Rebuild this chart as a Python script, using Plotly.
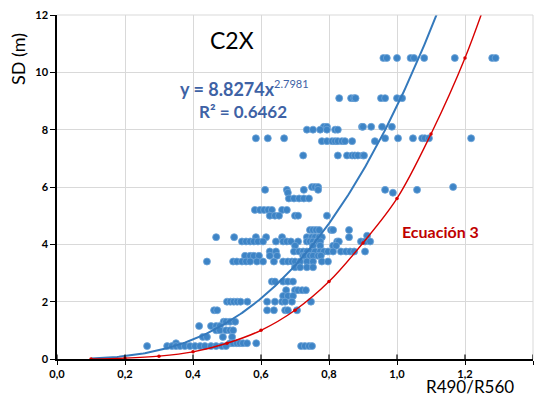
import numpy as np
import plotly.graph_objects as go

# ---- Data ----
rows = {
    10.5: [0.96, 0.97, 1.00, 1.04, 1.05, 1.08, 1.17, 1.28, 1.29],
    9.1: [0.83, 0.865, 0.874, 0.878, 0.953, 0.965, 1.00, 1.015],
    8.1: [0.785, 0.794, 0.897, 0.90, 0.924, 0.956, 0.985],
    8.0: [0.735, 0.753, 0.774, 0.794, 0.818, 0.826],
    7.7: [0.585, 0.62, 0.668, 0.965, 1.003, 1.047, 1.074, 1.082, 1.094, 1.218],
    7.6: [0.779, 0.794, 0.809, 0.818, 0.826, 0.838, 0.847, 0.868, 0.935],
    7.1: [0.724, 0.826, 0.853, 0.868, 0.876, 0.885, 0.90, 0.903],
    6.0: [0.75, 0.759, 0.768, 1.165],
    5.9: [0.612, 0.676, 0.726, 0.768, 0.965, 1.059],
    5.8: [0.679, 0.988],
    5.6: [0.682, 0.697, 0.712, 0.726, 0.741],
    5.2: [0.582, 0.597, 0.609, 0.621, 0.632, 0.662, 0.676],
    5.0: [0.626, 0.641, 0.653, 0.70, 0.709, 0.794],
    4.5: [0.744, 0.753, 0.762, 0.771, 0.806, 0.812, 0.859],
    4.3: [0.912],
    4.25: [0.468, 0.521, 0.585, 0.615, 0.662, 0.735, 0.75, 0.759, 0.771, 0.779, 0.859],
    4.1: [0.544, 0.556, 0.568, 0.579, 0.591, 0.606, 0.644, 0.665, 0.676, 0.688,
          0.709, 0.735, 0.744, 0.753, 0.765, 0.774, 0.824, 0.829, 0.894, 0.906, 0.921],
    3.95: [0.70, 0.753, 0.774, 0.812, 0.821],
    3.75: [0.626, 0.644, 0.697, 0.712, 0.724, 0.735, 0.747, 0.759, 0.774, 0.785,
           0.797, 0.812, 0.835, 0.85, 0.862, 0.874, 0.906],
    3.6: [0.553, 0.568, 0.579, 0.594, 0.626, 0.647, 0.724, 0.729, 0.744, 0.753, 0.768, 0.776],
    3.4: [0.441, 0.518, 0.529, 0.544, 0.556, 0.568, 0.588, 0.606, 0.638, 0.665,
          0.679, 0.691, 0.70, 0.715, 0.735, 0.753, 0.779, 0.797],
    3.2: [0.70, 0.715, 0.735, 0.753],
    2.7: [0.632, 0.641, 0.665, 0.679, 0.694],
    2.4: [0.674, 0.70, 0.709, 0.721, 0.732],
    2.2: [0.665, 0.679, 0.694],
    2.0: [0.50, 0.51, 0.52, 0.53, 0.54, 0.56, 0.618, 0.641, 0.662, 0.671, 0.691, 0.747],
    1.7: [0.462, 0.471, 0.618, 0.638, 0.671, 0.679, 0.706],
    1.3: [0.49, 0.497, 0.509, 0.524],
    1.15: [0.418, 0.453, 0.468, 0.479],
    1.0: [0.468, 0.479, 0.497, 0.509, 0.518],
    0.77: [0.429, 0.441, 0.488, 0.515],
    0.55: [0.35, 0.509, 0.518, 0.529, 0.538, 0.547, 0.559, 0.586],
    0.45: [0.265, 0.324, 0.338, 0.35, 0.362, 0.376, 0.391, 0.406, 0.421, 0.435,
           0.453, 0.468, 0.485, 0.497, 0.718, 0.729, 0.741, 0.75],
}
sd_x = [x for y, xs in rows.items() for x in xs]
sd_y = [y for y, xs in rows.items() for x in xs]

# Power trendline shown on the chart: y = 8.8274 x^2.7981
trend_a, trend_b = 8.8274, 2.7981
trend_x = np.linspace(0.1, 1.1165, 200)
trend_y = trend_a * trend_x ** trend_b

# "Ecuación 3" curve, values read at 0.1 steps
eq3_x = [0.1, 0.2, 0.3, 0.4, 0.5, 0.6, 0.7, 0.8, 0.9, 1.0, 1.1, 1.2, 1.3]
eq3_y = [0.0, 0.03, 0.1, 0.25, 0.55, 1.0, 1.7, 2.7, 4.05, 5.6, 7.85, 10.5, 13.8]

x_ticks = [0.0, 0.2, 0.4, 0.6, 0.8, 1.0, 1.2, 1.4]
y_ticks = [0, 2, 4, 6, 8, 10, 12]

FONT = "Lato"
fig = go.Figure()
fig.add_trace(go.Scatter(
    x=sd_x, y=sd_y, mode="markers",
    marker=dict(size=7, color="#3D84C6", line=dict(color="#6EA4D8", width=0.8)),
    hoverinfo="skip"))
fig.add_trace(go.Scatter(
    x=trend_x, y=trend_y, mode="lines",
    line=dict(color="#3479BC", width=2), hoverinfo="skip"))
fig.add_trace(go.Scatter(
    x=eq3_x, y=eq3_y, mode="lines+markers",
    line=dict(color="#D80000", width=1.4, shape="spline"),
    marker=dict(size=3.5, color="#D80000"), hoverinfo="skip"))

fig.update_layout(
    width=540, height=398,
    margin=dict(l=57, r=7, t=15, b=39),
    paper_bgcolor="white", plot_bgcolor="white",
    showlegend=False, separators=",.",
    font=dict(family=FONT, color="black"),
    xaxis=dict(range=[0, 1.4], tickvals=x_ticks, tickformat=".1f",
               showgrid=True, gridcolor="#D9D9D9", gridwidth=1,
               zeroline=False, showline=True, linecolor="black", linewidth=1.5,
               ticks="outside", ticklen=4, tickcolor="black", tickwidth=1.2,
               tickfont=dict(family=FONT, size=11, color="black", weight="bold")),
    yaxis=dict(range=[0, 12], tickvals=y_ticks,
               showgrid=True, gridcolor="#D9D9D9", gridwidth=1,
               zeroline=False, showline=True, linecolor="black", linewidth=1.5,
               ticks="outside", ticklen=5, tickcolor="black", tickwidth=1.2,
               tickfont=dict(family=FONT, size=11, color="black", weight="bold")),
)
# top / right frame lines (grid colour)
fig.add_shape(type="line", xref="paper", yref="paper", x0=0, x1=1, y0=1, y1=1,
              line=dict(color="#D9D9D9", width=1))
fig.add_shape(type="line", xref="paper", yref="paper", x0=1, x1=1, y0=0, y1=1,
              line=dict(color="#D9D9D9", width=1))
# upper half of the crossing x-axis tick marks
for t in x_ticks:
    fig.add_shape(type="line", xref="x", yref="y", x0=t, x1=t, y0=0, y1=0.16,
                  line=dict(color="black", width=1.2))

fig.add_annotation(text="C2X", xref="x", yref="y", x=0.516, y=11.13,
                   xanchor="center", yanchor="middle",
                   showarrow=False, font=dict(family=FONT, size=23, color="black"))
fig.add_annotation(
    text="<b>y = 8.8274x</b><sup><span style='font-size:11px'>2.7981</span></sup>",
    xref="paper", yref="paper",
    x=(178 - 57) / 476, y=(359 - 88) / 344, xanchor="left", yanchor="middle",
    showarrow=False, font=dict(family=FONT, size=18, color="#3E62A5"))
fig.add_annotation(text="<b>R² = 0.6462</b>", xref="paper", yref="paper",
                   x=(197 - 57) / 476, y=(359 - 112) / 344, xanchor="left", yanchor="middle",
                   showarrow=False, font=dict(family=FONT, size=17, color="#3E62A5"))
fig.add_annotation(text="<b>Ecuación 3</b>", xref="paper", yref="paper",
                   x=(400 - 57) / 476, y=(359 - 231) / 344, xanchor="left", yanchor="middle",
                   showarrow=False, font=dict(family=FONT, size=16, color="#C00000"))
fig.add_annotation(text="SD (m)", xref="paper", yref="paper",
                   x=-(57 - 18) / 476, y=(359 - 59) / 344, xanchor="center", yanchor="middle",
                   textangle=-90, showarrow=False,
                   font=dict(family=FONT, size=18, color="black"))
fig.add_annotation(text="R490/R560", xref="paper", yref="paper",
                   x=(470 - 57) / 476, y=-(398 - 359) / 344, xanchor="center",
                   yanchor="bottom", borderpad=0, showarrow=False,
                   font=dict(family=FONT, size=17, color="black"))

fig.write_html("out.html")
